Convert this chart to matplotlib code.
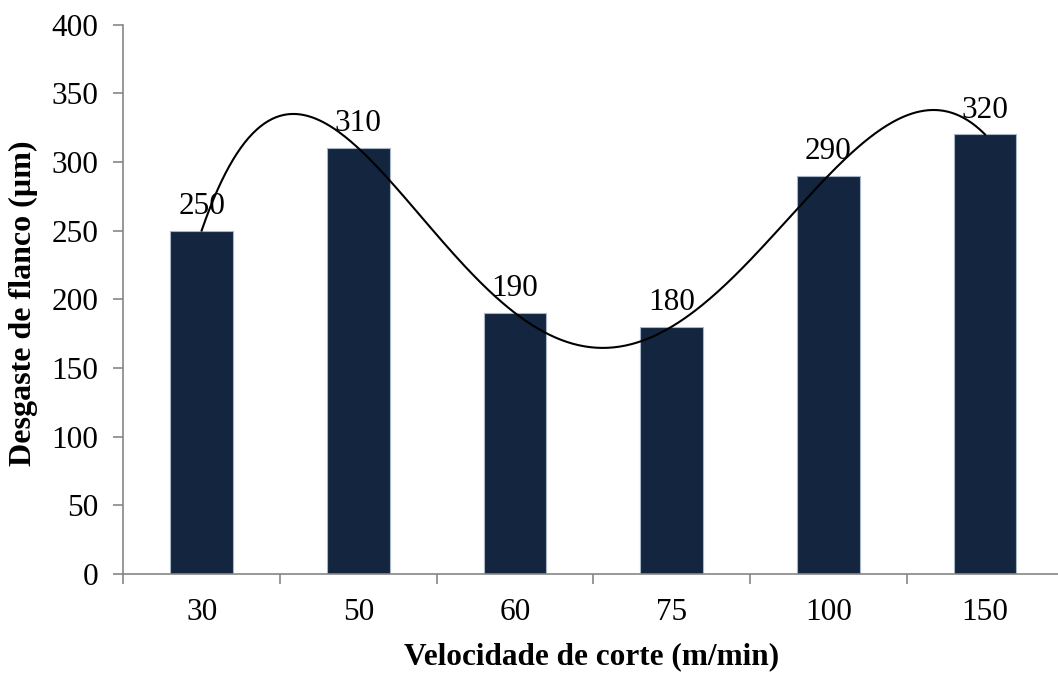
import numpy as np
import matplotlib
matplotlib.use("Agg")
import matplotlib.pyplot as plt

# Flank wear by cutting speed
speeds = ["30", "50", "60", "75", "100", "150"]
wear = [250, 310, 190, 180, 290, 320]
y_ticks = [0, 50, 100, 150, 200, 250, 300, 350, 400]

plt.rcParams["font.family"] = ["Liberation Serif", "DejaVu Serif"]

W, H = 1058, 673
FS = 22.5
fig = plt.figure(figsize=(W / 100, H / 100), dpi=100)
ax = fig.add_axes([123.3 / W, (H - 574) / H, 940 / W, (574 - 24.5) / H])

x = np.arange(1, len(speeds) + 1)
bar_color = "#13253F"
ax.bar(x, wear, width=0.4, color=bar_color, edgecolor="#A9B6C8", linewidth=0.8, zorder=2)

# Polynomial trendline (order 5) through the bar values
coef = np.polyfit(x, wear, 5)
xs = np.linspace(x[0], x[-1], 400)
ax.plot(xs, np.polyval(coef, xs), color="black", linewidth=1.5, zorder=3)

for xi, v in zip(x, wear):
    ax.annotate(str(v), (xi, v), xytext=(0, 7), textcoords="offset points",
                ha="center", va="bottom", fontsize=FS, zorder=4)

ax.set_xlim(0.5, len(speeds) + 0.5)
ax.set_ylim(0, 400)
ax.set_yticks(y_ticks)
ax.set_yticklabels([str(t) for t in y_ticks], fontsize=FS)
ax.set_xticks(x)
ax.set_xticklabels(speeds, fontsize=FS)
ax.set_xticks(np.arange(0.5, len(speeds) + 1.0, 1.0), minor=True)

spine_color = "#868686"
for side in ("top", "right"):
    ax.spines[side].set_visible(False)
for side in ("left", "bottom"):
    ax.spines[side].set_color(spine_color)
    ax.spines[side].set_linewidth(1.2)

ax.tick_params(axis="y", direction="out", length=7, width=1.2, color=spine_color, pad=11)
ax.tick_params(axis="x", which="major", length=0, pad=17)
ax.tick_params(axis="x", which="minor", direction="out", length=7, width=1.2, color=spine_color)

ax.set_xlabel("Velocidade de corte (m/min)", fontsize=FS, fontweight="bold")
ax.set_ylabel("Desgaste de flanco (µm)", fontsize=23, fontweight="bold")
ax.xaxis.set_label_coords((592 - 123.3) / 940, -(657 - 574) / (574 - 24.5))
ax.xaxis.label.set_va("center")
ax.yaxis.set_label_coords(-(123.3 - 23) / 940, (574 - 303) / (574 - 24.5))
ax.yaxis.label.set_va("center")

fig.savefig("out.png", dpi=100)
